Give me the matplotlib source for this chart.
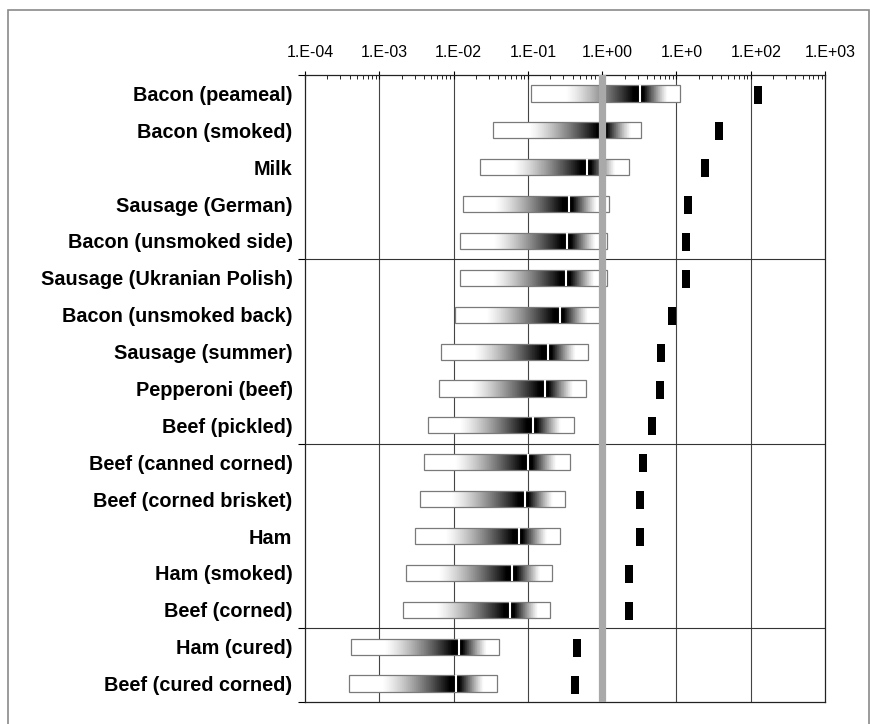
import matplotlib
matplotlib.use('Agg')
import matplotlib.pyplot as plt
import matplotlib.transforms as mtransforms
from matplotlib.patches import Rectangle
import numpy as np

plt.rcParams['font.family'] = ['Liberation Sans', 'DejaVu Sans']

### Data (log axis)

foods = ['Bacon (peameal)', 'Bacon (smoked)', 'Milk', 'Sausage (German)',
         'Bacon (unsmoked side)', 'Sausage (Ukranian Polish)', 'Bacon (unsmoked back)',
         'Sausage (summer)', 'Pepperoni (beef)', 'Beef (pickled)', 'Beef (canned corned)',
         'Beef (corned brisket)', 'Ham', 'Ham (smoked)', 'Beef (corned)',
         'Ham (cured)', 'Beef (cured corned)']

low = [0.11, 0.034, 0.023, 0.0135, 0.0123, 0.0123, 0.0105, 0.0068, 0.0063, 0.0045,
       0.0040, 0.0035, 0.0030, 0.0023, 0.0021, 0.00042, 0.00039]
high = [11.2, 3.3, 2.3, 1.23, 1.15, 1.15, 0.93, 0.65, 0.60, 0.42,
        0.37, 0.32, 0.27, 0.21, 0.20, 0.041, 0.038]
median = [3.2, 1.02, 0.63, 0.355, 0.34, 0.33, 0.27, 0.186, 0.17, 0.117,
          0.102, 0.091, 0.076, 0.062, 0.058, 0.0117, 0.0107]
point = [126, 37, 24, 14.3, 13.5, 13.5, 8.7, 6.2, 6.0, 4.7,
         3.6, 3.2, 3.2, 2.3, 2.3, 0.46, 0.43]

ref_value = 1.0
group_breaks = [4.5, 9.5, 14.5]

tick_vals = [1e-4, 1e-3, 1e-2, 1e-1, 1e0, 1e1, 1e2, 1e3]
tick_text = ['1.E-04', '1.E-03', '1.E-02', '1.E-01', '1.E+00', '1.E+0', '1.E+02', '1.E+03']

### Figure

fig = plt.figure(figsize=(8.74, 7.24), dpi=100)
ax = fig.add_axes([305/874, 1 - 702/724, 520/874, 627/724])
ax.set_xscale('log')
ax.set_xlim(1e-4, 1e3)
ax.set_ylim(len(foods) - 0.5, -0.5)

bar_h = 0.44

for i in range(len(foods)):
    lo, hi, md = np.log10(low[i]), np.log10(high[i]), np.log10(median[i])
    u = np.linspace(lo, hi, 220)
    uc = 0.5 * (u[1:] + u[:-1])
    # shading: builds up to black at the median, then fades out quickly
    before = np.clip((uc - (md - 1.0)) / 0.92, 0, 1) ** 1.3
    after = np.clip(1 - (uc - md - 0.05) / 0.33, 0, 1) ** 1.2
    dark = np.where(uc < md, before, after)
    C = (1 - dark)[None, :]
    ax.pcolormesh(10**u, [i - bar_h/2, i + bar_h/2], C, cmap='gray', vmin=0, vmax=1,
                  shading='flat', edgecolors='none', antialiased=False, zorder=2)
    ax.add_patch(Rectangle((low[i], i - bar_h/2), high[i] - low[i], bar_h,
                           fill=False, edgecolor='#7a7a7a', linewidth=0.9, zorder=3))
    ax.plot([median[i], median[i]], [i - bar_h/2, i + bar_h/2], color='white',
            linewidth=1.5, solid_capstyle='butt', zorder=4)

# point estimates
marker_shape = [(-0.2, -0.5), (0.2, -0.5), (0.2, 0.5), (-0.2, 0.5)]
ax.scatter(point, np.arange(len(foods)) + 0.03, marker=marker_shape, s=165,
           color='black', linewidths=0, zorder=5)

# reference line at 1
ax.axvline(ref_value, color='#a9a9a9', linewidth=5.2, zorder=6)

# grid
for v in tick_vals[1:-1]:
    ax.axvline(v, color='#444444', linewidth=0.8, zorder=1)
for b in group_breaks:
    ax.axhline(b, color='#333333', linewidth=0.8, zorder=1)

for s in ax.spines.values():
    s.set_linewidth(0.9)
    s.set_color('#222222')

# x ticks on top
ax.xaxis.tick_top()
ax.set_xticks(tick_vals)
ax.set_xticklabels(tick_text, fontsize=11.5)
ax.tick_params(axis='x', which='major', direction='inout', length=6, width=0.8, pad=8)
ax.tick_params(axis='x', which='minor', direction='in', length=3, width=0.6)
shift = mtransforms.ScaledTranslation(5/100, 0, fig.dpi_scale_trans)
for lab in ax.get_xticklabels():
    lab.set_transform(lab.get_transform() + shift)

# y labels and group ticks
ax.set_yticks(np.arange(len(foods)))
ax.set_yticklabels(foods, fontsize=14.3, fontweight='bold')
ax.tick_params(axis='y', which='major', length=0, pad=9)
ax.set_yticks([-0.5] + group_breaks + [len(foods) - 0.5], minor=True)
ax.tick_params(axis='y', which='minor', direction='out', length=5, width=0.8)

# outer frame
fig.patches.append(Rectangle((8/874, -0.02), 861/874, 1.02 - 10/724, transform=fig.transFigure,
                             fill=False, edgecolor='#8a8a8a', linewidth=1.2))

fig.savefig('out.png', dpi=100)
